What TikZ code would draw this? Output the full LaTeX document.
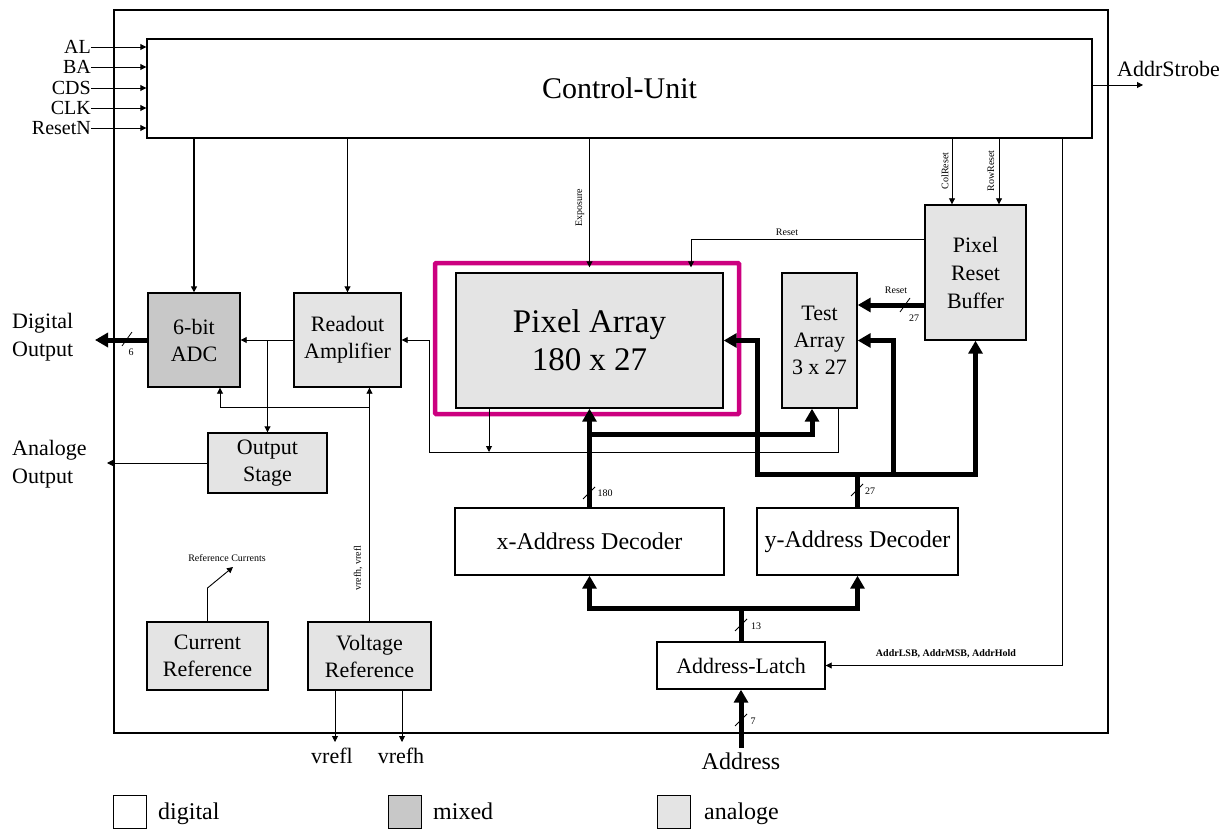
\documentclass[tikz,border=0pt]{standalone}
\usepackage{fontspec}
\setmainfont{Liberation Serif}
\usetikzlibrary{arrows.meta}
\definecolor{anagray}{RGB}{228,228,228}
\definecolor{mixgray}{RGB}{200,200,200}
\definecolor{magframe}{RGB}{204,0,128}
\begin{document}
\begin{tikzpicture}[x=1pt,y=-1pt,
  blk/.style={draw, line width=1.4pt, inner sep=0pt, align=center, font=\fontsize{22}{27}\selectfont},
  dig/.style={blk, fill=white},
  ana/.style={blk, fill=anagray},
  mix/.style={blk, fill=mixgray},
  sig/.style={line width=0.9pt, -{Triangle[length=6pt,width=6pt]}},
  busl/.style={line width=5pt},
  bus/.style={line width=5pt, -{Triangle[length=13pt,width=14pt]}},
  lbl/.style={font=\fontsize{22}{28}\selectfont, align=left, inner sep=0pt},
  inlbl/.style={font=\fontsize{20}{22}\selectfont, inner sep=0pt, anchor=east},
  tiny/.style={font=\fontsize{10}{11}\selectfont, inner sep=0pt},
  slash/.style={line width=0.8pt},
  legbox/.style={draw, line width=1pt, minimum width=33pt, minimum height=33pt, inner sep=0pt},
  legtxt/.style={lbl, anchor=base west, font=\fontsize{24}{28}\selectfont},
]
\useasboundingbox[fill=white] (0,0) rectangle (1228,829);

% outer chip border
\draw[line width=1.6pt] (114,10) rectangle (1108,733);

% blocks
\node[dig, minimum width=945pt, minimum height=99pt, font=\fontsize{30}{34}\selectfont] (ctrl) at (619.5,88.5) {Control-Unit};
\node[mix, minimum width=92pt, minimum height=94pt] (adc) at (194,340) {6-bit\\ADC};
\node[ana, minimum width=107pt, minimum height=94pt] (ra) at (347.5,340) {Readout\\Amplifier};
\node[ana, minimum width=267pt, minimum height=135pt, font=\fontsize{33}{38}\selectfont] (pixel) at (589.5,340.5) {Pixel Array\\180 x 27};
\draw[magframe, line width=4.5pt, rounded corners=1pt] (435,263) rectangle (739,414);
\node[ana, minimum width=75pt, minimum height=135pt] (test) at (819.5,340.5) {Test\\Array\\3 x 27};
\node[ana, minimum width=101pt, minimum height=135pt, font=\fontsize{22}{28}\selectfont] (prb) at (975.5,272.5) {Pixel\\Reset\\Buffer};
\node[ana, minimum width=119pt, minimum height=60pt] (os) at (267.5,463) {Output\\Stage};
\node[dig, minimum width=269pt, minimum height=67pt, font=\fontsize{24}{28}\selectfont] (xdec) at (589.5,541.5) {x-Address Decoder};
\node[dig, minimum width=201pt, minimum height=67pt, font=\fontsize{24}{28}\selectfont] (ydec) at (857.5,541.5) {y-Address Decoder};
\node[ana, minimum width=121pt, minimum height=68pt] (cref) at (207.5,656) {Current\\Reference};
\node[ana, minimum width=123pt, minimum height=68pt] (vref) at (369.5,656) {Voltage\\Reference};
\node[dig, minimum width=168pt, minimum height=47pt] (latch) at (741,665.5) {Address-Latch};

% control inputs
\node[inlbl] (lAL) at (91,47) {AL};
\node[inlbl] (lBA) at (91,67) {BA};
\node[inlbl] (lCDS) at (91,88) {CDS};
\node[inlbl] (lCLK) at (91,108) {CLK};
\node[inlbl] (lRes) at (91,128) {ResetN};
\foreach \n in {lAL,lBA,lCDS,lCLK,lRes}
  \draw[sig] (\n.east) -- (\n.east -| ctrl.west);

% AddrStrobe
\coordinate (as) at (1143,85);
\draw[sig] (ctrl.east |- as) -- (as);
\node[lbl, anchor=base west] (las) at (1117,77) {AddrStrobe};

% control outputs
\draw[sig, line width=1.5pt] (ctrl.south -| adc.north) -- (adc.north);
\draw[sig] (ctrl.south -| ra.north) -- (ra.north);
\draw[sig] (ctrl.south -| pixel.north) -- ([yshift=5pt]pixel.north);
\node[tiny, rotate=90] (lexp) at (580,208) {Exposure};
\draw[sig] (ctrl.south -| 952,0) -- (prb.north -| 952,0);
\node[tiny, rotate=90] (lcol) at (945,171) {ColReset};
\draw[sig] (ctrl.south -| 999,0) -- (prb.north -| 999,0);
\node[tiny, rotate=90] (lrow) at (991,171) {RowReset};
\draw[sig] (ctrl.south -| 1062,0) |- (latch.east);
\node[tiny, font=\fontsize{10}{11}\selectfont\bfseries] (laddr) at (946,654) {AddrLSB, AddrMSB, AddrHold};

% pixel reset
\draw[sig] (prb.west |- 0,239) -| ([xshift=101.5pt,yshift=5pt]pixel.north);
\node[tiny] (lrst1) at (787,232) {Reset};
\draw[bus] (prb.west |- 0,305) -- (test.east |- 0,305);
\node[tiny] (lrst2) at (896,290) {Reset};
\draw[slash] (900,312) -- (910,298);
\node[tiny] (l27a) at (914,318) {27};

% y bus
\coordinate (ya) at (757,474);
\draw[busl] (ydec.north) -- (ydec.north |- ya);
\draw[busl, line cap=rect] (ya) -- (prb.south |- ya);
\draw[bus] (ya) |- (pixel.east);
\draw[bus] (893,474) |- (test.east);
\draw[bus] (prb.south |- ya) -- (prb.south);
\draw[slash] (851,496) -- (863,484);
\node[tiny] (l27b) at (870,491) {27};

% x bus
\draw[bus] (xdec.north) -- (pixel.south);
\draw[bus] (xdec.north |- 0,434) -| ([xshift=-7.5pt]test.south);
\draw[slash] (583,499) -- (595,487);
\node[tiny] (l180) at (605,493) {180};

% analog readout net
\coordinate (tj) at (489,452);
\draw[sig] ([xshift=-100.5pt]pixel.south) -- (tj);
\draw[sig] ([xshift=18.5pt]test.south) |- (429,452) |- (ra.east);
\draw[sig] (ra.west) -- (adc.east);
\draw[sig] (ra.west -| os.north) -- (os.north);

% voltage reference
\draw[sig] (vref.north) -- (vref.north |- ra.south);
\draw[sig] (vref.north |- 0,407) -| ([xshift=26pt]adc.south);
\node[tiny, rotate=90] (lvr) at (358,568) {vrefh, vrefl};
\coordinate (vl) at (335,742);
\coordinate (vh) at (402,742);
\draw[sig] (vref.south -| vl) -- (vl);
\draw[sig] (vref.south -| vh) -- (vh);
\node[lbl, anchor=north] (lvl) at (332,748) {vrefl};
\node[lbl, anchor=north] (lvh) at (401,748) {vrefh};

% current reference
\coordinate (cr1) at (207.5,588);
\coordinate (cr2) at (233,567);
\draw[sig] (cref.north) -- (cr1) -- (cr2);
\node[tiny] (lrc) at (227,558) {Reference Currents};

% outputs
\coordinate (do) at (95,340);
\draw[bus] (adc.west) -- (do);
\draw[slash] (122,346) -- (132,332);
\node[tiny] (l6) at (131,352) {6};
\node[lbl, anchor=west] (ldo) at (12,337) {Digital\\Output};
\coordinate (ao) at (107,463);
\draw[sig] (os.west) -- (ao);
\node[lbl, anchor=west] (lao) at (12,464) {Analoge\\Output};

% address
\coordinate (ad) at (741,748);
\draw[bus] (ad) -- (latch.south);
\draw[slash] (735,726) -- (747,714);
\node[tiny] (l7) at (753,721) {7};
\node[lbl, anchor=north, font=\fontsize{24}{28}\selectfont] (lad) at (741,753) {Address};
\coordinate (la) at (741,608);
\draw[busl] (latch.north) -- (la);
\draw[bus] (la) -| (xdec.south);
\draw[bus] (la) -| (ydec.south);
\draw[slash] (735,631) -- (747,619);
\node[tiny] (l13) at (756,626) {13};

% legend
\node[legbox, fill=white] (lg1) at (129.5,811.5) {};
\node[legtxt] (lgt1) at (158,819) {digital};
\node[legbox, fill=mixgray] (lg2) at (404.5,811.5) {};
\node[legtxt] (lgt2) at (433,819) {mixed};
\node[legbox, fill=anagray] (lg3) at (674,811.5) {};
\node[legtxt] (lgt3) at (704,819) {analoge};
\end{tikzpicture}
\end{document}
